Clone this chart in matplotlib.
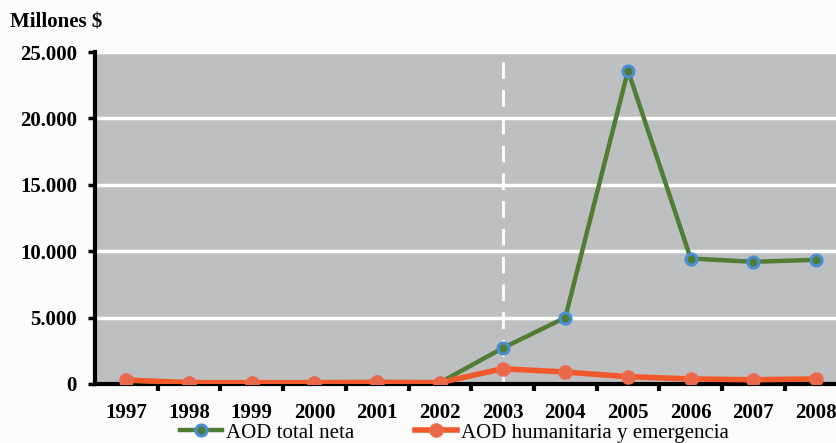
import matplotlib
matplotlib.use("Agg")
import matplotlib.pyplot as plt
import numpy as np

# data (millones $)
years = ['1997', '1998', '1999', '2000', '2001', '2002',
         '2003', '2004', '2005', '2006', '2007', '2008']
aod_total = [250, 100, 100, 100, 150, 100, 2700, 5000, 23600, 9450, 9200, 9350]
aod_humanitaria = [300, 100, 100, 100, 120, 100, 1150, 900, 550, 380, 320, 380]
y_ticks = [0, 5000, 10000, 15000, 20000, 25000]
y_labels = ['0', '5.000', '10.000', '15.000', '20.000', '25.000']
marker_year = '2003'

plt.rcParams['font.family'] = ['Liberation Serif', 'DejaVu Serif']

fig = plt.figure(figsize=(8.37, 4.43), dpi=100)
fig.patch.set_facecolor('#FDFBFB')
ax = fig.add_axes([0.1135, 0.1332, 0.899, 0.7494])
ax.set_facecolor('#BEBFC1')

x = np.arange(len(years))

# white horizontal gridlines
for t in y_ticks[1:]:
    ax.axhline(t, color='white', linewidth=2.5, zorder=1)

# dashed vertical line at 2003
ax.axvline(years.index(marker_year), color='white', linewidth=2,
           linestyle=(0, (6, 4)), zorder=2)

ax.plot(x, aod_total, color='#4E7D33', linewidth=3.2, marker='o',
        markersize=8, markerfacecolor='#4E7D33', markeredgecolor='#4A8FD3',
        markeredgewidth=2.2, label='AOD total neta', zorder=4)
ax.plot(x, aod_humanitaria, color='#F2592A', linewidth=4, marker='o',
        markersize=9, markerfacecolor='#E8694A', markeredgecolor='#EE6A4C',
        markeredgewidth=1.5, label='AOD humanitaria y emergencia', zorder=5)

ax.set_xlim(-0.5, len(years) - 0.5)
ax.set_ylim(0, 25000)

ax.set_yticks(y_ticks)
ax.set_yticklabels(y_labels, fontsize=15, fontweight='bold')
ax.set_xticks(x)
ax.set_xticklabels(years, fontsize=15, fontweight='bold')
ax.set_xticks(np.arange(len(years)) + 0.5, minor=True)
ax.tick_params(axis='x', which='major', length=0, pad=14)
ax.tick_params(axis='x', which='minor', length=5, width=3, direction='out')
ax.tick_params(axis='y', length=5, width=2.5, direction='out', pad=8)

for side in ['top', 'right']:
    ax.spines[side].set_visible(False)
ax.spines['left'].set_linewidth(3)
ax.spines['bottom'].set_linewidth(3)
ax.spines['left'].set_zorder(6)
ax.spines['bottom'].set_zorder(3)

fig.text(0.012, 0.95, 'Millones $', fontsize=15, fontweight='bold',
         ha='left', va='center')

fig.legend(loc='center', bbox_to_anchor=(0.543, 0.023), ncol=2, frameon=False,
           fontsize=15, handlelength=2.0, columnspacing=2.9, handletextpad=0.2,
           borderpad=0.1)

fig.savefig('out.png', dpi=100, facecolor=fig.get_facecolor())
